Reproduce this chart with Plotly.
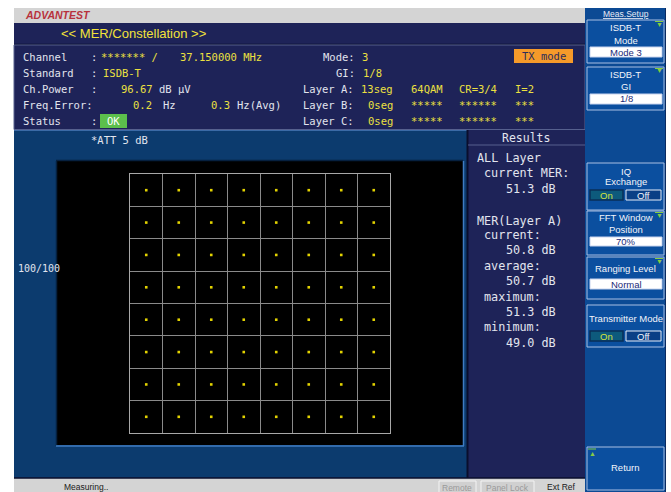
import plotly.graph_objects as go

W, H = 671, 492

# ---------------- data ----------------
i_levels = [-7, -5, -3, -1, 1, 3, 5, 7]
q_levels = [-7, -5, -3, -1, 1, 3, 5, 7]

title_text = "<< MER/Constellation >>"
info_labels = ["Channel", "Standard", "Ch.Power", "Freq.Error:", "Status"]
channel_vals = ["******* /", "37.150000 MHz"]
standard_val = "ISDB-T"
power_val, power_unit = "96.67", "dB \u03bcV"
freq_vals = ["0.2", "Hz", "0.3", "Hz(Avg)"]
status_val = "OK"
mode_val, gi_val = "3", "1/8"
layer_names = ["Layer A:", "Layer B:", "Layer C:"]
layer_segs = ["13seg", "0seg", "0seg"]
layer_mod = ["64QAM", "*****", "*****"]
layer_cr = ["CR=3/4", "******", "******"]
layer_il = ["I=2", "***", "***"]

result_lines = ["ALL Layer", "current MER:", "51.3 dB",
                "MER(Layer A)", "current:", "50.8 dB", "average:", "50.7 dB",
                "maximum:", "51.3 dB", "minimum:", "49.0 dB"]

softkeys = [
    dict(y0=20, y1=63, lines=["ISDB-T", "Mode"], ly=[27, 40], box="Mode 3", by=(47, 57), arrow=True),
    dict(y0=67, y1=110, lines=["ISDB-T", "GI"], ly=[74, 86], box="1/8", by=(94, 104), arrow=True),
    dict(y0=163, y1=210, lines=["IQ", "Exchange"], ly=[171, 182], onoff=(190, 200)),
    dict(y0=211, y1=255, lines=["FFT Window", "Position"], ly=[217, 229], box="70%", by=(237, 246), arrow=True),
    dict(y0=257, y1=299, lines=["Ranging Level"], ly=[268], box="Normal", by=(279, 289), arrow=True),
    dict(y0=305, y1=347, lines=["Transmitter Mode"], ly=[318], onoff=(331, 341)),
    dict(y0=447, y1=490, lines=["Return"], ly=[467], up=True),
]

# ---------------- helpers ----------------
def px(x):
    return x / W


def py(y):
    return 1 - y / H


shapes = []
annos = []


def rect(x0, y0, x1, y1, fill, line=None, lw=1):
    shapes.append(dict(type="rect", xref="paper", yref="paper",
                       x0=px(x0), x1=px(x1), y0=py(y1), y1=py(y0),
                       fillcolor=fill, layer="below",
                       line=dict(color=line if line else fill, width=lw if line else 0)))


def hline(x0, x1, y, color, lw=1):
    shapes.append(dict(type="line", xref="paper", yref="paper",
                       x0=px(x0), x1=px(x1), y0=py(y), y1=py(y),
                       layer="below", line=dict(color=color, width=lw)))


def vline(x, y0, y1, color, lw=1):
    shapes.append(dict(type="line", xref="paper", yref="paper",
                       x0=px(x), x1=px(x), y0=py(y0), y1=py(y1),
                       layer="below", line=dict(color=color, width=lw)))


MONO = "DejaVu Sans Mono"
SANS = "Liberation Sans"


def txt(x, y, s, color, size=10.5, family=MONO, anchor="left", **fkw):
    annos.append(dict(x=px(x), y=py(y), xref="paper", yref="paper", text=s,
                      showarrow=False, xanchor=anchor, yanchor="middle",
                      borderpad=0,
                      font=dict(family=family, size=size, color=color, **fkw)))


NAVY = "#1e2358"
BLUE = "#0c3b6e"
GRAY = "#d4d4d4"
COL = "#0c4a94"
BTNLINE = "#a9bfe3"
YEL = "#ece040"
WHT = "#e2e5ee"

# ---------------- background panels ----------------
rect(14, 8, 585, 23, GRAY)
rect(14, 23, 585, 44, NAVY)
hline(14, 585, 44.5, "#0a0e2c", 1.5)
rect(14, 45, 585, 129.5, NAVY, "#56608e", 1)
rect(14, 130, 468, 478, BLUE)
hline(14, 468, 130.5, "#3b6aa6", 1)
rect(57, 161, 463, 445, "#000000")
vline(56.5, 161, 446, "#06203f", 1.5)
hline(56, 463, 160.5, "#06203f", 1.5)
vline(463.5, 161, 446, "#3f7cc2", 1.5)
hline(56, 464, 446, "#3f7cc2", 1.5)
rect(468, 130, 585, 478, NAVY)
vline(467.5, 130, 478, "#0a0e2c", 2)
hline(468, 585, 145, "#56608e", 1)
rect(14, 478, 585, 492, GRAY)
hline(14, 585, 478, "#0a0e2c", 1.5)
rect(585, 8, 666, 492, COL)
vline(665.5, 8, 492, "#0a2a60", 1)

# ---------------- header / info texts ----------------
txt(24, 15.5, "<b><i>ADVANTEST</i></b>", "#b8323c", 10.5, SANS)
txt(60, 34, title_text, "#f2e23a", 13, SANS)

row_y = [57, 73, 89, 105, 121]
for lab, yy in zip(info_labels, row_y):
    txt(22, yy, lab, WHT)
for yy in (57, 73, 89, 121):
    txt(90, yy, ":", WHT)
txt(100, 57, channel_vals[0], YEL)
txt(179, 57, channel_vals[1], YEL)
txt(102, 73, standard_val, YEL)
txt(120, 89, power_val, YEL)
txt(158, 89, power_unit, WHT)
txt(132, 105, freq_vals[0], YEL)
txt(162, 105, freq_vals[1], WHT)
txt(210, 105, freq_vals[2], YEL)
txt(236, 105, freq_vals[3], WHT)
rect(100, 114, 127, 128, "#5cbf4c")
txt(113.5, 121, status_val, "#ffffff", 10.5, MONO, "center")

txt(322, 57, "Mode:", WHT)
txt(361, 57, mode_val, YEL)
txt(335, 73, "GI:", WHT)
txt(362, 73, gi_val, YEL)
for k, yy in enumerate([89, 105, 121]):
    txt(302, yy, layer_names[k], WHT)
    txt(394, yy, layer_segs[k], YEL, anchor="right")
    txt(410, yy, layer_mod[k], YEL)
    txt(458, yy, layer_cr[k], YEL)
    txt(514, yy, layer_il[k], YEL)
rect(514, 49, 573, 63, "#f59a2a")
txt(543.5, 56, "TX mode", "#2c2c5a", 10.5, MONO, "center")

# ---------------- main area texts ----------------
txt(90, 140, "*ATT 5 dB", WHT, 10.5)
txt(17, 268, "100/100", WHT, 10)

txt(526, 138, "Results", WHT, 11.5, MONO, "center")
res_x = [476, 483, 505, 476, 483, 505, 483, 505, 483, 505, 483, 505]
res_y = [158, 173, 189, 221, 235, 250, 266, 281, 297, 312, 327, 343]
for s, xx, yy in zip(result_lines, res_x, res_y):
    txt(xx, yy, s, "#e2e5ee", 11.8)

# ---------------- status bar ----------------
txt(63, 487, "Measuring..", "#202020", 8.5, SANS)
rect(439, 481, 476, 493, "#d0d0d0", "#f4f4f4", 1)
txt(457.5, 487.5, "Remote", "#9a9a9a", 8.5, SANS, "center")
rect(481, 481, 534, 493, "#d0d0d0", "#f4f4f4", 1)
txt(507.5, 487.5, "Panel Lock", "#9a9a9a", 8.5, SANS, "center")
txt(546, 487, "Ext Ref", "#202020", 8.5, SANS)

# ---------------- softkeys ----------------
txt(626, 14, "Meas.Setup", "#e8ecf6", 8.5, SANS, "center", lineposition="under")
for sk in softkeys:
    rect(587, sk["y0"], 664, sk["y1"], "#0b4f9f", BTNLINE, 1)
    for s, yy in zip(sk["lines"], sk["ly"]):
        txt(625.5, yy, s, "#f2f4fa", 9.5, SANS, "center")
    if "box" in sk:
        b0, b1 = sk["by"]
        rect(590, b0, 662, b1, "#ffffff", "#c8d4ee", 1)
        txt(626, (b0 + b1) / 2, sk["box"], "#1a2a78", 9.5, SANS, "center")
    if "onoff" in sk:
        b0, b1 = sk["onoff"]
        rect(590, b0, 623, b1, "#0d5a7c", "#0a2f58", 1.5)
        txt(606.5, (b0 + b1) / 2, "On", "#d6e23c", 9.5, SANS, "center")
        rect(626, b0, 661, b1, "#0a3f86", "#e8eef8", 1)
        txt(643.5, (b0 + b1) / 2, "Off", "#f2f4fa", 9.5, SANS, "center")
    if sk.get("arrow"):
        txt(659, sk["y0"] + 4, "\u25bc", "#86cc44", 7, SANS, "center")
        hline(655, 663, sk["y0"] + 1.5, "#86cc44", 1)
    if sk.get("up"):
        txt(592, sk["y0"] + 6, "\u25b2", "#86cc44", 7, SANS, "center")
        hline(588, 596, sk["y0"] + 2, "#86cc44", 1)

# ---------------- constellation ----------------
I = [i for q in q_levels for i in i_levels]
Q = [q for q in q_levels for i in i_levels]

fig = go.Figure()
fig.add_trace(go.Scatter(x=I, y=Q, mode="markers",
                         marker=dict(symbol="square", size=2.6, color="#e2d200",
                                     line=dict(width=0)),
                         hoverinfo="skip"))

axis_common = dict(range=[-8, 8], tick0=-8, dtick=2, showgrid=True,
                   gridcolor="#8a8a8a", gridwidth=1, zeroline=False,
                   showticklabels=False, ticks="", showline=True,
                   linecolor="#a8a8a8", linewidth=1, mirror=True,
                   fixedrange=True)
fig.update_layout(
    width=W, height=H, margin=dict(l=0, r=0, t=0, b=0),
    paper_bgcolor="#ffffff", plot_bgcolor="rgba(0,0,0,0)",
    showlegend=False, hovermode=False,
    xaxis=dict(domain=[px(130), px(390)], **axis_common),
    yaxis=dict(domain=[py(433), py(174)], **axis_common),
    shapes=shapes, annotations=annos,
)

fig.write_html("out.html")
